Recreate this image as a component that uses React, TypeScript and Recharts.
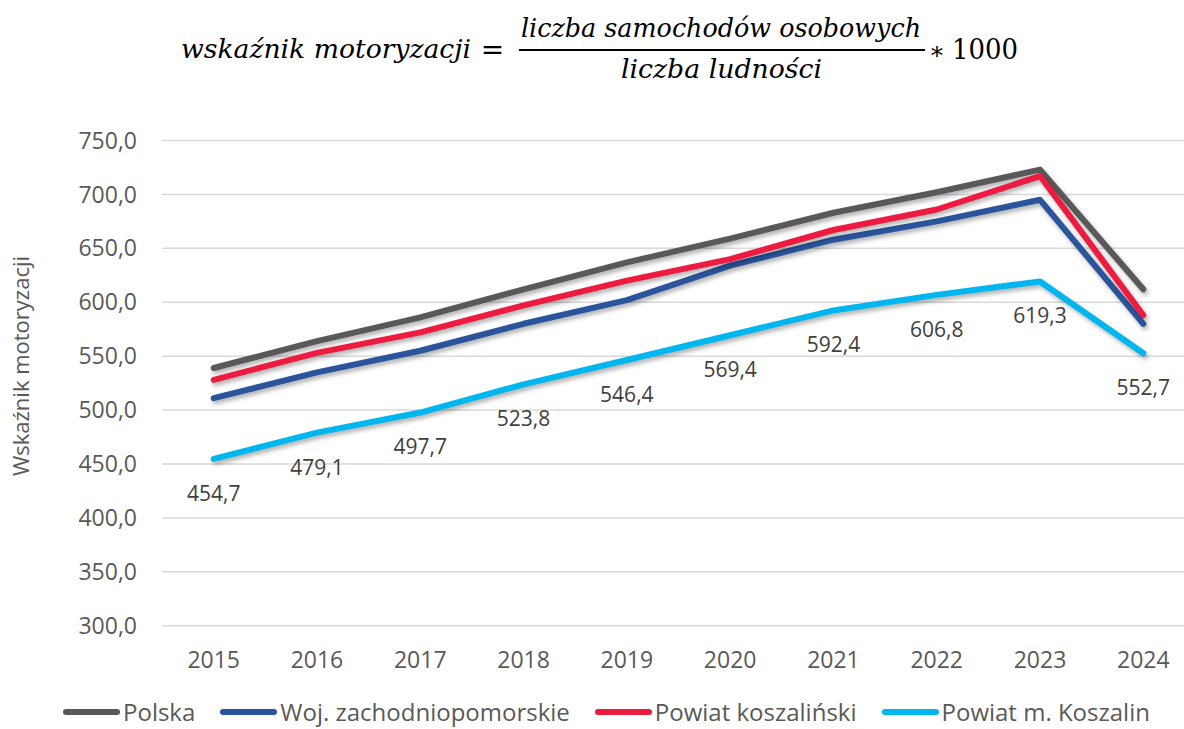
import { LineChart, Line, XAxis, YAxis, CartesianGrid, LabelList } from 'recharts'

const years = ['2015', '2016', '2017', '2018', '2019', '2020', '2021', '2022', '2023', '2024']
const polska = [539, 564, 586, 612, 637, 659, 683, 702, 723, 612]
const wojZp = [511, 535, 555, 580, 602, 634, 658, 675, 695, 580]
const powiatKosz = [528, 553, 572, 597, 620, 640, 667, 686, 717, 588]
const koszalin = [454.7, 479.1, 497.7, 523.8, 546.4, 569.4, 592.4, 606.8, 619.3, 552.7]
const yTicks = [300, 350, 400, 450, 500, 550, 600, 650, 700, 750]

const data = years.map((year, i) => ({
  year,
  polska: polska[i],
  woj: wojZp[i],
  powiat: powiatKosz[i],
  koszalin: koszalin[i],
}))

const series = [
  { key: 'polska', name: 'Polska', color: '#595959' },
  { key: 'woj', name: 'Woj. zachodniopomorskie', color: '#2A549C' },
  { key: 'powiat', name: 'Powiat koszaliński', color: '#EC1B3F' },
  { key: 'koszalin', name: 'Powiat m. Koszalin', color: '#00B6EF' },
]

const fmt = (v: number) => Number(v).toFixed(1).replace('.', ',')
const font = '"Open Sans", sans-serif'
const mathFont = '"DejaVu Serif", serif'

function Title() {
  return (
    <svg width={1184} height={100} style={{ position: 'absolute', left: 0, top: 0 }}>
      <g fontFamily={mathFont} fontStyle="italic" fontSize={26} fill="#000">
        <text x={181} y={58} textLength={290} lengthAdjust="spacingAndGlyphs">wskaźnik motoryzacji</text>
        <text x={521} y={37} textLength={400} lengthAdjust="spacingAndGlyphs">liczba samochodów osobowych</text>
        <text x={621} y={78} textLength={201} lengthAdjust="spacingAndGlyphs">liczba ludności</text>
      </g>
      <text x={492.5} y={59} fontFamily={mathFont} fontSize={28} textAnchor="middle">=</text>
      <line x1={519} x2={925} y1={50} y2={50} stroke="#000" strokeWidth={2} />
      <text x={937} y={59} fontFamily={mathFont} fontSize={24} textAnchor="middle">∗</text>
      <text x={952} y={59} fontFamily={mathFont} fontSize={28} textLength={66} lengthAdjust="spacingAndGlyphs">1000</text>
    </svg>
  )
}

export default function App() {
  return (
    <div style={{ position: 'fixed', left: 0, top: 0, width: 1184, height: 729, overflow: 'hidden', background: '#fff', fontFamily: font }}>
      <style>{`.recharts-line-curve { filter: drop-shadow(2px 3px 2px rgba(0,0,0,0.3)); }`}</style>
      <Title />
      <svg width={40} height={729} style={{ position: 'absolute', left: 0, top: 0 }}>
        <text x={0} y={0} transform="translate(29,366) rotate(-90)" textAnchor="middle"
          fontFamily={font} fontSize={22} fill="#595959">Wskaźnik motoryzacji</text>
      </svg>
      <div style={{ position: 'absolute', left: 0, top: 0 }}>
        <LineChart width={1200} height={729} data={data}
          margin={{ top: 140.5, right: 5, bottom: 73.3, left: 0 }}>
          <CartesianGrid vertical={false} stroke="#D9D9D9" strokeWidth={1.5} />
          <XAxis dataKey="year" height={30} tickLine={false} axisLine={false} tickSize={0} tickMargin={26}
            padding={{ left: 51.7, right: 51.7 }}
            tick={{ fontSize: 23, fontFamily: font, fill: '#595959' }} interval={0} />
          <YAxis width={162} domain={[300, 750]} ticks={yTicks} tickFormatter={fmt}
            tickLine={false} axisLine={false} tickSize={0} tickMargin={25}
            tick={{ fontSize: 23, fontFamily: font, fill: '#595959' }} />
          {series.map(s => (
            <Line key={s.key} type="linear" dataKey={s.key} name={s.name} stroke={s.color}
              strokeWidth={6} strokeLinecap="round" strokeLinejoin="round" dot={false}
              activeDot={false} isAnimationActive={false}>
              {s.key === 'koszalin' && (
                <LabelList dataKey="koszalin" position="bottom" offset={27}
                  formatter={(v: any) => fmt(v)}
                  style={{ fontSize: 21, fontFamily: font, fill: '#404040' }} />
              )}
            </Line>
          ))}
        </LineChart>
      </div>
      <div style={{ position: 'absolute', left: 63, top: 696, display: 'flex', alignItems: 'center', gap: 25, fontSize: 24, color: '#595959', lineHeight: '32px', whiteSpace: 'nowrap' }}>
        {series.map(s => (
          <div key={s.key} style={{ display: 'flex', alignItems: 'center' }}>
            <span style={{ display: 'inline-block', width: 57, height: 6, borderRadius: 3, background: s.color, marginRight: 3 }} />
            <span>{s.name}</span>
          </div>
        ))}
      </div>
    </div>
  )
}
